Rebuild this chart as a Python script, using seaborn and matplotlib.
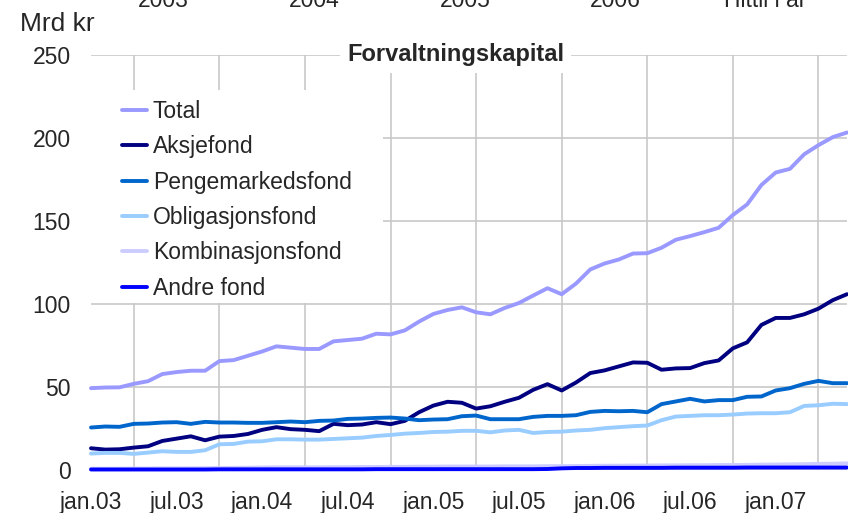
import numpy as np
import pandas as pd
import matplotlib
matplotlib.use('Agg')
import matplotlib.pyplot as plt
from matplotlib.patches import Rectangle
import seaborn as sns

# monthly data jan.03 - jun.07, mrd kr
total = [49.3, 49.7, 49.8, 51.9, 53.5, 57.8, 59.0, 59.8, 59.8, 65.6,
         66.2, 68.8, 71.4, 74.5, 73.7, 72.9, 72.9, 77.5, 78.3, 79.1,
         82.1, 81.7, 84.1, 89.4, 94.0, 96.4, 98.0, 95.0, 93.8, 97.6,
         100.6, 105.1, 109.5, 105.9, 112.3, 120.8, 124.4, 126.8, 130.4, 130.6,
         133.9, 138.7, 140.9, 143.3, 145.9, 153.6, 160.0, 171.7, 179.2, 181.4,
         190.2, 195.7, 200.5, 203.3]
aksje = [13.1, 12.3, 12.5, 13.5, 14.3, 17.5, 18.9, 20.3, 17.9, 20.1,
         20.5, 21.7, 24.2, 25.8, 24.6, 24.2, 23.4, 27.8, 27.0, 27.4,
         28.8, 27.6, 29.6, 34.8, 38.8, 41.1, 40.5, 37.0, 38.4, 41.1,
         43.5, 48.3, 51.7, 47.9, 52.7, 58.4, 60.0, 62.4, 64.8, 64.6,
         60.4, 61.2, 61.4, 64.4, 66.0, 73.3, 76.9, 87.4, 91.6, 91.6,
         93.8, 97.2, 102.3, 105.9]
penge = [25.6, 26.2, 26.0, 27.8, 28.0, 28.6, 28.8, 27.8, 29.0, 28.6,
         28.6, 28.4, 28.4, 28.8, 29.2, 28.8, 29.6, 29.8, 30.8, 31.0,
         31.4, 31.6, 31.0, 30.0, 30.4, 30.6, 32.4, 32.8, 30.6, 30.6,
         30.6, 32.0, 32.6, 32.6, 33.0, 35.0, 35.6, 35.4, 35.6, 34.8,
         39.7, 41.3, 42.9, 41.3, 42.1, 42.1, 44.1, 44.3, 47.9, 49.3,
         51.9, 53.7, 52.3, 52.3]
oblig = [9.9, 10.3, 10.3, 9.7, 10.5, 11.3, 10.9, 10.9, 11.9, 15.5,
         15.7, 17.1, 17.3, 18.5, 18.5, 18.3, 18.3, 18.7, 19.1, 19.5,
         20.5, 21.1, 21.9, 22.3, 22.9, 23.1, 23.6, 23.6, 22.7, 23.8,
         24.2, 22.3, 22.9, 23.1, 23.8, 24.2, 25.2, 25.8, 26.4, 26.8,
         30.0, 32.2, 32.6, 33.0, 33.0, 33.4, 34.0, 34.2, 34.2, 34.8,
         38.6, 39.0, 39.9, 39.7]
kombi = [0.8, 0.8, 0.8, 0.9, 0.9, 1.0, 1.0, 1.0, 1.1, 1.2,
         1.3, 1.4, 1.5, 1.6, 1.6, 1.6, 1.6, 1.7, 1.7, 1.8,
         1.8, 1.9, 1.9, 2.0, 2.0, 2.1, 2.1, 2.1, 2.1, 2.2,
         2.2, 2.2, 2.3, 2.3, 2.4, 2.5, 2.6, 2.6, 2.7, 2.7,
         2.8, 2.8, 2.9, 2.9, 3.0, 3.0, 3.1, 3.2, 3.3, 3.4,
         3.5, 3.7, 3.8, 4.0]
andre = [0.3, 0.3, 0.3, 0.3, 0.3, 0.3, 0.3, 0.3, 0.3, 0.4,
         0.4, 0.4, 0.4, 0.4, 0.4, 0.4, 0.4, 0.4, 0.4, 0.4,
         0.5, 0.5, 0.5, 0.5, 0.5, 0.5, 0.5, 0.5, 0.5, 0.5,
         0.5, 0.5, 0.6, 1.0, 1.2, 1.2, 1.3, 1.3, 1.3, 1.3,
         1.3, 1.4, 1.4, 1.4, 1.4, 1.4, 1.5, 1.5, 1.5, 1.5,
         1.5, 1.5, 1.5, 1.5]

series_names = ['Total', 'Aksjefond', 'Pengemarkedsfond', 'Obligasjonsfond',
                'Kombinasjonsfond', 'Andre fond']
colors = ['#9999FF', '#000080', '#0066CC', '#99CCFF', '#CCCCFF', '#0000FF']
tick_pos = [0, 6, 12, 18, 24, 30, 36, 42, 48]
tick_labels = ['jan.03', 'jul.03', 'jan.04', 'jul.04', 'jan.05', 'jul.05',
               'jan.06', 'jul.06', 'jan.07']
year_labels = ['2003', '2004', '2005', '2006', 'Hittil i år']
year_x = [163, 314, 465, 615, 765]  # pixel centres of the cut-off header row

values = [total, aksje, penge, oblig, kombi, andre]
df = pd.concat([pd.DataFrame({'mnd': np.arange(len(v)), 'verdi': v, 'serie': n})
                for n, v in zip(series_names, values)], ignore_index=True)

sns.set_style('white')
plt.rcParams['font.family'] = ['Liberation Sans', 'DejaVu Sans']

W, H = 848, 513
fig = plt.figure(figsize=(W / 100, H / 100), dpi=100)
x0, x1, ytop, ybot = 91, 847, 55, 470
ax = fig.add_axes([x0 / W, (H - ybot) / H, (x1 - x0) / W, (ybot - ytop) / H])

sns.lineplot(data=df, x='mnd', y='verdi', hue='serie', hue_order=series_names,
             palette=colors, linewidth=2.8, ax=ax, legend=False, clip_on=False,
             zorder=3)

ax.set_xlim(0, 53)
ax.set_ylim(0, 250)
ax.set_xticks(np.arange(0, 54, 3), minor=True)
ax.set_xticks(tick_pos)
ax.set_xticklabels(tick_labels)
ax.set_yticks(np.arange(0, 251, 50))
ax.set_xlabel('')
ax.set_ylabel('')
ax.set_axisbelow(True)
ax.grid(True, which='minor', axis='x', color='#C8C8C8', linewidth=1.2)
ax.grid(True, which='major', axis='y', color='#C8C8C8', linewidth=1.2)
for s in ax.spines.values():
    s.set_visible(False)
ax.tick_params(axis='x', which='both', length=0, pad=15, labelsize=16.5)
ax.tick_params(axis='y', length=4, width=1.2, color='#C8C8C8', pad=10.5, labelsize=16.5)

# white area behind the legend
ax.add_patch(Rectangle((0, (ybot - 303) / (ybot - ytop)), (383 - x0) / (x1 - x0),
                       (303 - 90) / (ybot - ytop), transform=ax.transAxes,
                       facecolor='white', edgecolor='none', zorder=1))

handles = [plt.Line2D([], [], color=c, linewidth=2.8) for c in colors]
fig.legend(handles, series_names, loc='upper left', frameon=False,
           bbox_to_anchor=(122 / W, 1 - 100 / H), borderpad=0, borderaxespad=0,
           handlelength=1.1, handletextpad=0.25, labelspacing=0.54, fontsize=16.5)

ax.text((455.5 - x0) / (x1 - x0), 1.0, 'Forvaltningskapital', transform=ax.transAxes,
        ha='center', va='center', fontsize=17, fontweight='bold', zorder=4,
        bbox=dict(facecolor='white', edgecolor='none', pad=5))

fig.text(20 / W, 1 - 31 / H, 'Mrd kr', fontsize=19, ha='left', va='baseline')
for lab, xp in zip(year_labels, year_x):
    fig.text(xp / W, 1 - 7 / H, lab, fontsize=16.5, ha='center', va='baseline')

fig.savefig('out.png', dpi=100)
